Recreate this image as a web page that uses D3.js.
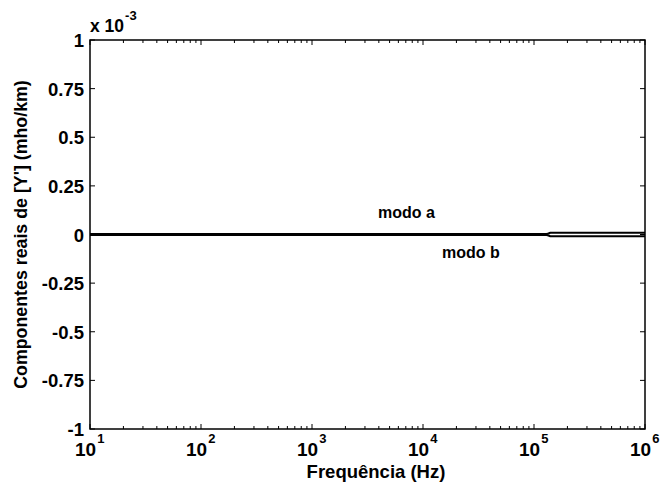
<!DOCTYPE html>
<html>
<head>
<meta charset="utf-8">
<script src="https://d3js.org/d3.v7.min.js"></script>
<style>
  body { margin: 0; background: #fff; }
  text { font-family: "Liberation Sans", Arial, sans-serif; font-weight: bold; fill: #000; }
</style>
</head>
<body>
<svg id="chart" width="661" height="485"></svg>
<script>
// data (values in mho/km)
var freqs = [10, 100, 1000, 10000, 100000, 130000, 135000, 140000, 200000, 500000, 1000000];
var modoA = [2.5e-6, 2.5e-6, 2.5e-6, 2.5e-6, 2.5e-6, 2.5e-6, 5e-6, 9e-6, 9.5e-6, 9.5e-6, 9.5e-6];
var modoB = [-2.5e-6, -2.5e-6, -2.5e-6, -2.5e-6, -2.5e-6, -2.5e-6, -5e-6, -9e-6, -9.5e-6, -9.5e-6, -9.5e-6];
var yTicks = [-1, -0.75, -0.5, -0.25, 0, 0.25, 0.5, 0.75, 1];
var xDecades = [1, 2, 3, 4, 5, 6];

var svg = d3.select("#chart");
var m = {left: 90, right: 645, top: 40, bottom: 429};

var x = d3.scaleLog().domain([10, 1e6]).range([m.left, m.right]);
var y = d3.scaleLinear().domain([-1e-3, 1e-3]).range([m.bottom, m.top]);

// minor ticks on the log axis
var minor = [];
for (var d = 1; d < 6; d++) {
  for (var k = 2; k <= 9; k++) minor.push(k * Math.pow(10, d));
}

var g = svg.append("g").attr("stroke", "#000").attr("stroke-width", 1);

minor.forEach(function(f) {
  g.append("line").attr("x1", x(f)).attr("x2", x(f)).attr("y1", m.bottom).attr("y2", m.bottom - 3);
  g.append("line").attr("x1", x(f)).attr("x2", x(f)).attr("y1", m.top).attr("y2", m.top + 3);
});
xDecades.forEach(function(p) {
  var f = Math.pow(10, p);
  g.append("line").attr("x1", x(f)).attr("x2", x(f)).attr("y1", m.bottom).attr("y2", m.bottom - 5);
  g.append("line").attr("x1", x(f)).attr("x2", x(f)).attr("y1", m.top).attr("y2", m.top + 5);
});
yTicks.forEach(function(t) {
  g.append("line").attr("x1", m.left).attr("x2", m.left + 5).attr("y1", y(t * 1e-3)).attr("y2", y(t * 1e-3));
  g.append("line").attr("x1", m.right).attr("x2", m.right - 5).attr("y1", y(t * 1e-3)).attr("y2", y(t * 1e-3));
});

// data lines
var line = d3.line().x(function(d) { return x(d[0]); }).y(function(d) { return y(d[1]); });
[modoA, modoB].forEach(function(s) {
  svg.append("path")
    .datum(freqs.map(function(f, i) { return [f, s[i]]; }))
    .attr("d", line)
    .attr("fill", "none")
    .attr("stroke", "#000")
    .attr("stroke-width", 2);
});

// frame
svg.append("rect")
  .attr("x", m.left).attr("y", m.top)
  .attr("width", m.right - m.left).attr("height", m.bottom - m.top)
  .attr("fill", "none").attr("stroke", "#000").attr("stroke-width", 1.5);

// y tick labels (plain hyphen for the minus, as in the original)
yTicks.forEach(function(t) {
  svg.append("text")
    .attr("x", m.left - 6).attr("y", y(t * 1e-3) + 7)
    .attr("text-anchor", "end")
    .attr("font-size", 18.5)
    .text(String(t));
});

// x tick labels 10^n
xDecades.forEach(function(p) {
  var t = svg.append("text")
    .attr("x", x(Math.pow(10, p)) - 15).attr("y", 456)
    .attr("text-anchor", "start")
    .attr("font-size", 19);
  t.append("tspan").text("10");
  t.append("tspan").attr("dx", 1).attr("dy", -13).attr("font-size", 13).text(p);
});

// exponent multiplier
var ex = svg.append("text").attr("x", 90).attr("y", 32).attr("font-size", 17.5);
ex.append("tspan").text("x 10");
ex.append("tspan").attr("dx", 1).attr("dy", -12).attr("font-size", 13).text("-3");

// axis titles
svg.append("text")
  .attr("x", 376).attr("y", 478)
  .attr("text-anchor", "middle").attr("font-size", 18.5)
  .text("Frequência (Hz)");

svg.append("text")
  .attr("transform", "translate(27," + ((m.top + m.bottom) / 2) + ") rotate(-90)")
  .attr("text-anchor", "middle").attr("font-size", 17.8)
  .text("Componentes reais de [Y'] (mho/km)");

// curve labels
svg.append("text").attr("x", 378).attr("y", 218).attr("font-size", 16).text("modo a");
svg.append("text").attr("x", 442).attr("y", 258).attr("font-size", 16).text("modo b");
</script>
</body>
</html>
